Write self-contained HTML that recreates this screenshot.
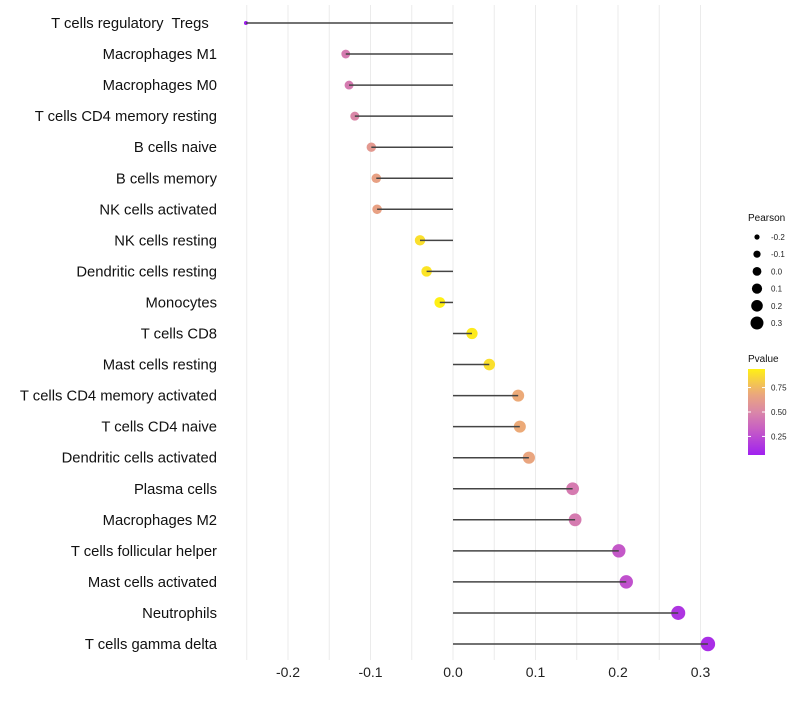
<!DOCTYPE html>
<html><head><meta charset="utf-8"><style>
body{margin:0;background:#fff;font-family:"Liberation Sans",sans-serif}
text{white-space:pre}
</style></head><body>
<svg id="chart" width="800" height="700" xmlns="http://www.w3.org/2000/svg" font-family="Liberation Sans, sans-serif" xml:space="preserve"></svg>
<script>
const categories=["T cells regulatory  Tregs  ","Macrophages M1","Macrophages M0","T cells CD4 memory resting","B cells naive","B cells memory","NK cells activated","NK cells resting","Dendritic cells resting","Monocytes","T cells CD8","Mast cells resting","T cells CD4 memory activated","T cells CD4 naive","Dendritic cells activated","Plasma cells","Macrophages M2","T cells follicular helper","Mast cells activated","Neutrophils","T cells gamma delta"];
const pearson=[-0.251,-0.130,-0.126,-0.119,-0.099,-0.093,-0.092,-0.040,-0.032,-0.016,0.023,0.044,0.079,0.081,0.092,0.145,0.148,0.201,0.210,0.273,0.309];
const pvalue=[0.06,0.45,0.45,0.5,0.6,0.65,0.65,0.88,0.9,0.95,0.92,0.88,0.7,0.7,0.67,0.45,0.45,0.3,0.27,0.15,0.12];
const xTicks=[-0.2,-0.1,0.0,0.1,0.2,0.3];
const sizeLegend=[-0.2,-0.1,0.0,0.1,0.2,0.3];
const colorTicks=[0.25,0.5,0.75];
const NS="http://www.w3.org/2000/svg";
const svg=document.getElementById('chart');
const x=v=>453+v*825;
const y=i=>23+i*31.05;
const pmin=Math.min(...pearson),pmax=Math.max(...pearson);
const rad=v=>2+5.2*Math.sqrt(Math.max(0,(v-pmin)/(pmax-pmin)));
const stops=[[0.06,[160,32,240]],[0.3,[196,88,200]],[0.5,[218,135,168]],[0.7,[236,170,120]],[0.94,[255,240,20]]];
function col(p){p=Math.max(0.06,Math.min(0.94,p));for(let k=1;k<stops.length;k++){if(p<=stops[k][0]){const a=stops[k-1],b=stops[k],t=(p-a[0])/(b[0]-a[0]);return 'rgb('+a[1].map((c,j)=>Math.round(c+(b[1][j]-c)*t)).join(',')+')';}}return 'rgb(255,240,20)';}
function mk(tag,attrs,txt){const e=document.createElementNS(NS,tag);for(const k in attrs)e.setAttribute(k,attrs[k]);if(txt!=null)e.textContent=txt;svg.appendChild(e);return e;}
for(let v=-0.25;v<=0.31;v+=0.05){const g=mk('line',{x1:x(v),x2:x(v),y1:5,y2:660,stroke:'#ebebeb','stroke-width':1});

}
xTicks.forEach(t=>{const e=mk('text',{x:x(t),y:677,'text-anchor':'middle','font-size':14,fill:'#222'},t.toFixed(1));

});
categories.forEach((c,i)=>{
const l=mk('text',{x:217,y:y(i)+5,'text-anchor':'end','font-size':14.8,fill:'#111'},c);


const p=mk('circle',{cx:x(pearson[i]),cy:y(i),r:rad(pearson[i]),fill:col(pvalue[i])});


const s=mk('line',{x1:x(0),x2:x(pearson[i]),y1:y(i),y2:y(i),stroke:'#444','stroke-width':1.5});


});
const lt=mk('text',{x:748,y:221,'font-size':10,fill:'#111'},'Pearson');


const lr=[2.6,3.6,4.4,5.1,5.8,6.5];
sizeLegend.forEach((v,k)=>{const cy=237+k*17.2;
const d=mk('circle',{cx:757,cy:cy,r:lr[k],fill:'#000'});


const t=mk('text',{x:771,y:cy+3,'font-size':8,fill:'#222'},v.toFixed(1));

});
const ct=mk('text',{x:748,y:362,'font-size':10,fill:'#111'},'Pvalue');


const defs=mk('defs',{});
const lg=document.createElementNS(NS,'linearGradient');lg.setAttribute('id','pg');lg.setAttribute('x1','0');lg.setAttribute('y1','1');lg.setAttribute('x2','0');lg.setAttribute('y2','0');defs.appendChild(lg);
for(let k=0;k<=10;k++){const p=0.06+k*0.088;const st=document.createElementNS(NS,'stop');st.setAttribute('offset',k/10);st.setAttribute('stop-color',col(p));lg.appendChild(st);}
const cb=mk('rect',{x:748,y:369,width:17,height:86,fill:'url(#pg)'});


const cy=p=>455-(p-0.06)/0.88*86;
colorTicks.forEach(p=>{mk('line',{x1:748,x2:751,y1:cy(p),y2:cy(p),stroke:'#fff'});mk('line',{x1:762,x2:765,y1:cy(p),y2:cy(p),stroke:'#fff'});
const t=mk('text',{x:771,y:cy(p)+3,'font-size':8,fill:'#222'},p.toFixed(2));

});
</script>
</body></html>
